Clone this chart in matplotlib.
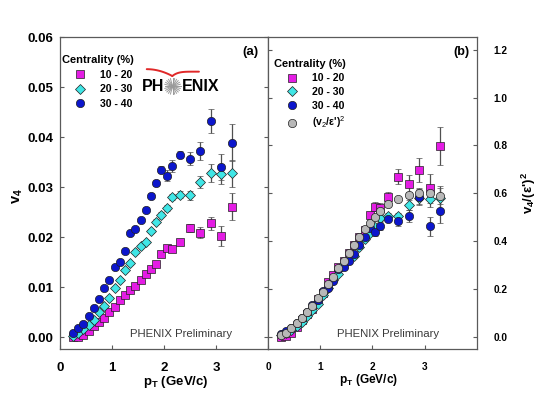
import numpy as np
import matplotlib
matplotlib.use("Agg")
import matplotlib.pyplot as plt
from matplotlib.lines import Line2D

plt.rcParams['font.family'] = ['Liberation Sans', 'DejaVu Sans']
plt.rcParams['mathtext.fontset'] = 'custom'
plt.rcParams['mathtext.rm'] = 'Liberation Sans'
plt.rcParams['mathtext.bf'] = 'Liberation Sans:bold'
plt.rcParams['mathtext.it'] = 'Liberation Sans:italic'

# pT bins (GeV/c)
pt = [0.25, 0.35, 0.45, 0.55, 0.65, 0.75, 0.85, 0.95, 1.05, 1.15, 1.25, 1.35, 1.45,
      1.55, 1.65, 1.75, 1.85, 1.95, 2.05, 2.15, 2.3, 2.5, 2.7, 2.9, 3.1, 3.3]

# panel (a): v4
v4_1020 = [0.0000, 0.0001, 0.0005, 0.0013, 0.0023, 0.0031, 0.0038, 0.0051, 0.0060, 0.0075,
           0.0085, 0.0095, 0.0103, 0.0115, 0.0126, 0.0136, 0.0146, 0.0166, 0.0178, 0.0176,
           0.0191, 0.0219, 0.0209, 0.0228, 0.0203, 0.0261]
v4_1020_err = [0.0002, 0.0002, 0.0002, 0.0002, 0.0002, 0.0002, 0.0002, 0.0002, 0.0002, 0.0003,
               0.0003, 0.0003, 0.0003, 0.0003, 0.0003, 0.0004, 0.0004, 0.0005, 0.0005, 0.0006,
               0.0006, 0.0008, 0.0011, 0.0013, 0.0020, 0.0027]
v4_2030 = [0.0003, 0.0009, 0.0016, 0.0025, 0.0035, 0.0050, 0.0062, 0.0078, 0.0098, 0.0115,
           0.0135, 0.0148, 0.0171, 0.0183, 0.0190, 0.0213, 0.0231, 0.0245, 0.0258, 0.0280,
           0.0285, 0.0284, 0.0310, 0.0329, 0.0326, 0.0328]
v4_2030_err = [0.0002, 0.0002, 0.0002, 0.0002, 0.0002, 0.0002, 0.0002, 0.0002, 0.0002, 0.0003,
               0.0003, 0.0003, 0.0003, 0.0003, 0.0004, 0.0004, 0.0005, 0.0005, 0.0006, 0.0006,
               0.0007, 0.0009, 0.0012, 0.0018, 0.0020, 0.0027]
v4_3040 = [0.0009, 0.0018, 0.0027, 0.0043, 0.0058, 0.0076, 0.0099, 0.0115, 0.0140, 0.0151,
           0.0173, 0.0209, 0.0216, 0.0235, 0.0255, 0.0283, 0.0308, 0.0335, 0.0323, 0.0343,
           0.0365, 0.0357, 0.0373, 0.0433, 0.0341, 0.0389]
v4_3040_err = [0.0002, 0.0002, 0.0002, 0.0002, 0.0002, 0.0002, 0.0003, 0.0003, 0.0003, 0.0003,
               0.0003, 0.0004, 0.0004, 0.0004, 0.0005, 0.0005, 0.0006, 0.0007, 0.0011, 0.0012,
               0.0007, 0.0013, 0.0018, 0.0024, 0.0026, 0.0037]

# panel (b): v4/(eps')^2 and (v2/eps')^2
sc_1020 = [0.000, 0.003, 0.015, 0.040, 0.070, 0.095, 0.116, 0.156, 0.183, 0.229, 0.260, 0.291,
           0.315, 0.352, 0.385, 0.416, 0.446, 0.508, 0.544, 0.538, 0.584, 0.670, 0.639, 0.697,
           0.621, 0.798]
sc_1020_err = [0.006, 0.006, 0.006, 0.006, 0.006, 0.006, 0.006, 0.006, 0.006, 0.009, 0.009, 0.009,
               0.009, 0.009, 0.009, 0.012, 0.012, 0.015, 0.018, 0.020, 0.023, 0.031, 0.036, 0.050,
               0.061, 0.079]
sc_2030 = [0.005, 0.016, 0.028, 0.044, 0.062, 0.088, 0.110, 0.138, 0.173, 0.204, 0.239, 0.262,
           0.303, 0.324, 0.336, 0.377, 0.409, 0.434, 0.457, 0.496, 0.504, 0.503, 0.549, 0.582,
           0.577, 0.581]
sc_2030_err = [0.004, 0.004, 0.004, 0.004, 0.004, 0.004, 0.004, 0.004, 0.004, 0.005, 0.005, 0.005,
               0.005, 0.005, 0.007, 0.007, 0.009, 0.009, 0.011, 0.011, 0.012, 0.016, 0.021, 0.032,
               0.035, 0.048]
sc_3040 = [0.012, 0.024, 0.036, 0.058, 0.078, 0.103, 0.134, 0.155, 0.189, 0.204, 0.234, 0.282,
           0.292, 0.318, 0.345, 0.382, 0.416, 0.453, 0.436, 0.464, 0.493, 0.482, 0.504, 0.585,
           0.461, 0.526]
sc_3040_err = [0.003, 0.003, 0.003, 0.003, 0.003, 0.003, 0.004, 0.004, 0.004, 0.004, 0.004, 0.005,
               0.005, 0.005, 0.007, 0.007, 0.008, 0.009, 0.015, 0.016, 0.009, 0.018, 0.024, 0.032,
               0.040, 0.050]
v2sq = [0.007, 0.017, 0.035, 0.056, 0.077, 0.105, 0.128, 0.161, 0.188, 0.220, 0.251, 0.286,
        0.317, 0.351, 0.384, 0.416, 0.449, 0.477, 0.502, 0.526, 0.554, 0.575, 0.593, 0.600,
        0.603, 0.589]
v2sq_err = [0.003, 0.003, 0.003, 0.003, 0.003, 0.003, 0.003, 0.003, 0.003, 0.003, 0.003, 0.004,
            0.004, 0.004, 0.004, 0.004, 0.005, 0.005, 0.005, 0.006, 0.006, 0.008, 0.012, 0.020,
            0.025, 0.033]

labels = ['10 - 20', '20 - 30', '30 - 40']
MAG, CYA, BLU, GRY = '#E41CE4', '#40E6E6', '#0C16CC', '#B8B8B8'
ECOL = '#505050'
SPINE = '#5a5a5a'
MS_SQ, MS_DI, MS_CI = 5.6, 5.0, 6.0

fig = plt.figure(figsize=(5.4, 3.96), dpi=100)
W, H = 540.0, 396.0
ax1 = fig.add_axes([60 / W, 46.7 / H, 208 / W, 312.3 / H])
ax2 = fig.add_axes([268 / W, 46.7 / H, 208.7 / W, 312.3 / H])

eb = dict(ls='none', ecolor=ECOL, elinewidth=0.9, capsize=2.2, capthick=0.9,
          markeredgecolor='#202020', markeredgewidth=0.5)

# ---- panel (a)
ax1.errorbar(pt, v4_1020, yerr=v4_1020_err, marker='s', ms=MS_SQ, mfc=MAG, **eb)
ax1.errorbar(pt, v4_2030, yerr=v4_2030_err, marker='D', ms=MS_DI, mfc=CYA, **eb)
ax1.errorbar(pt, v4_3040, yerr=v4_3040_err, marker='o', ms=MS_CI, mfc=BLU, **eb)

ax1.set_xlim(0, 4)
ax1.set_ylim(-0.0024, 0.06)
ax1.set_xticks([0, 1, 2, 3])
ax1.set_yticks([0, 0.01, 0.02, 0.03, 0.04, 0.05, 0.06])
ax1.yaxis.set_major_formatter(matplotlib.ticker.FormatStrFormatter('%.2f'))
ax1.tick_params(direction='in', length=3, width=0.8, color=SPINE, right=True,
                labelsize=9.5)
ax1.tick_params(axis='y', pad=5)
ax1.tick_params(axis='x', pad=9)
for lab in ax1.get_xticklabels() + ax1.get_yticklabels():
    lab.set_fontweight('bold')
ax1.set_xlabel(r'p$_\mathbf{T}$ (GeV/c)', fontsize=9.5, fontweight='bold')
ax1.xaxis.set_label_coords(0.555, -0.078)
ax1.set_ylabel(r'$\mathbf{v_4}$', fontsize=10.5, fontweight='bold')
ax1.yaxis.set_label_coords(-0.17, 0.49)

ax1.text(0.955, 0.952, '(a)', transform=ax1.transAxes, ha='right', va='center',
         fontsize=9.5, fontweight='bold')
ax1.text(0.582, 0.05, 'PHENIX Preliminary', transform=ax1.transAxes, ha='center',
         va='center', fontsize=8.2, color='#3a3a3a')

handles_a = [Line2D([], [], ls='none', marker='s', ms=MS_SQ, mfc=MAG, mec='#202020', mew=0.5),
             Line2D([], [], ls='none', marker='D', ms=MS_DI, mfc=CYA, mec='#202020', mew=0.5),
             Line2D([], [], ls='none', marker='o', ms=MS_CI, mfc=BLU, mec='#202020', mew=0.5)]
leg = ax1.legend(handles_a, labels, title='Centrality (%)', loc='upper left',
                 bbox_to_anchor=(-0.014, 0.958), frameon=False, borderpad=0,
                 handlelength=3.4, handletextpad=0.2, labelspacing=0.42,
                 prop={'size': 7.6, 'weight': 'bold'},
                 title_fontproperties={'size': 8, 'weight': 'bold'})
leg._legend_box.align = 'left'

# PHENIX logo
ax1.text(0.394, 0.842, 'PH', transform=ax1.transAxes, ha='left', va='center',
         fontsize=11.5, fontweight='bold')
ax1.text(0.585, 0.842, 'ENIX', transform=ax1.transAxes, ha='left', va='center',
         fontsize=11.5, fontweight='bold')
cx, cy, r = 0.541, 0.842, 8.0
for ang in np.linspace(0, np.pi, 12, endpoint=False):
    dx, dy = r * np.cos(ang) / 208.0, r * np.sin(ang) / 312.3
    ax1.plot([cx - dx, cx + dx], [cy - dy, cy + dy], color='#9a9a9a', lw=0.7,
             transform=ax1.transAxes, clip_on=False)
t = np.linspace(0, 1, 30)
ax1.plot(0.417 + 0.123 * t, 0.897 - 0.022 * t ** 2, color='#E02828', lw=1.4,
         transform=ax1.transAxes, solid_capstyle='round')
ax1.plot(0.54 + 0.128 * t, 0.889 - 0.014 * (1 - t) ** 5, color='#E02828', lw=1.4,
         transform=ax1.transAxes, solid_capstyle='round')

# ---- panel (b)
ax2.errorbar(pt, sc_1020, yerr=sc_1020_err, marker='s', ms=MS_SQ, mfc=MAG, **eb)
ax2.errorbar(pt, sc_2030, yerr=sc_2030_err, marker='D', ms=MS_DI, mfc=CYA, **eb)
ax2.errorbar(pt, sc_3040, yerr=sc_3040_err, marker='o', ms=MS_CI, mfc=BLU, **eb)
ax2.errorbar(pt, v2sq, yerr=v2sq_err, marker='o', ms=MS_CI, mfc=GRY, **eb)

ax2.set_xlim(0, 4)
ax2.set_ylim(-0.053, 1.254)
ax2.set_xticks([0, 1, 2, 3])
ax2.set_yticks([0, 0.2, 0.4, 0.6, 0.8, 1.0, 1.2])
ax2.yaxis.set_major_formatter(matplotlib.ticker.FormatStrFormatter('%.1f'))
ax2.yaxis.tick_right()
ax2.tick_params(direction='in', length=3, width=0.8, color=SPINE, left=True,
                right=True, labelleft=False, labelright=True, labelsize=7.3)
ax2.tick_params(axis='y', pad=12)
ax2.tick_params(axis='x', pad=9)
for lab in ax2.get_xticklabels() + ax2.get_yticklabels():
    lab.set_fontweight('bold')
ax2.set_xlabel(r'p$_\mathbf{T}$ (GeV/c)', fontsize=8.6, fontweight='bold')
ax2.xaxis.set_label_coords(0.48, -0.074)
ax2.yaxis.set_label_position('right')
ax2.set_ylabel(r"$\mathbf{v_4}$/($\mathbf{\epsilon}$')$^\mathbf{2}$", fontsize=9.5,
               fontweight='bold', rotation=90)
ax2.yaxis.set_label_coords(1.205, 0.5)

ax2.text(0.965, 0.952, '(b)', transform=ax2.transAxes, ha='right', va='center',
         fontsize=9, fontweight='bold')
ax2.text(0.573, 0.05, 'PHENIX Preliminary', transform=ax2.transAxes, ha='center',
         va='center', fontsize=8.2, color='#3a3a3a')

handles_b = handles_a + [Line2D([], [], ls='none', marker='o', ms=MS_CI, mfc=GRY,
                                mec='#202020', mew=0.5)]
leg2 = ax2.legend(handles_b, labels + ["(v$_2$/ε')$^2$"], title='Centrality (%)',
                  loc='upper left', bbox_to_anchor=(0.004, 0.945), frameon=False,
                  borderpad=0, handlelength=3.4, handletextpad=0.15, labelspacing=0.36,
                  prop={'size': 7.6, 'weight': 'bold'},
                  title_fontproperties={'size': 8, 'weight': 'bold'})
leg2._legend_box.align = 'left'

for ax in (ax1, ax2):
    for sp in ax.spines.values():
        sp.set_color(SPINE)
        sp.set_linewidth(0.9)

fig.savefig('out.png', dpi=100)
